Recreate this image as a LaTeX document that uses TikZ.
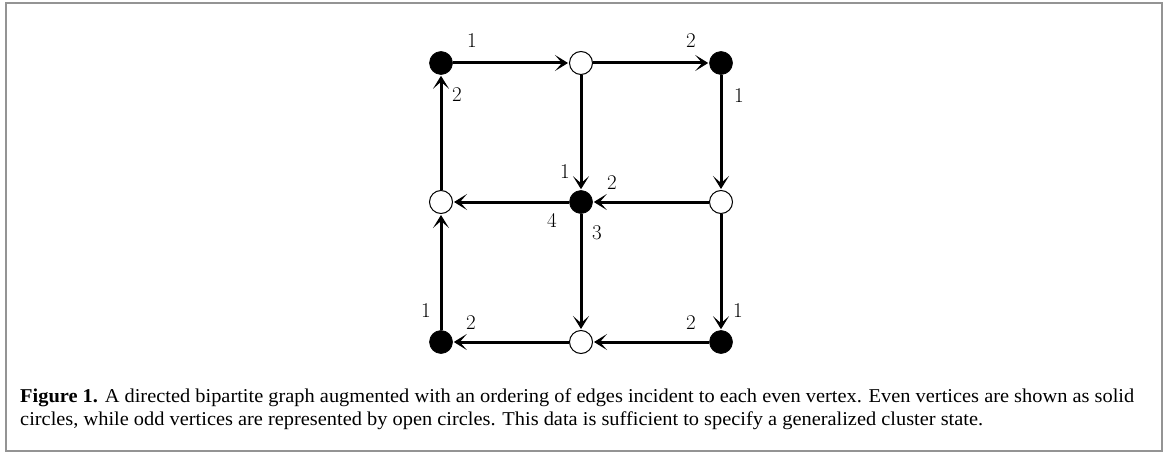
\documentclass[tikz,border=0pt]{standalone}
\usepackage{fontspec}
\newfontfamily\capfont[FakeStretch=1.04]{Liberation Serif}
\usetikzlibrary{arrows.meta}

\tikzset{
  even/.style={circle, fill=black, draw=black, line width=0.6pt, minimum size=23pt, inner sep=0pt},
  odd/.style={circle, fill=white, draw=black, line width=1pt, minimum size=23pt, inner sep=0pt},
  edge/.style={line width=3pt, -{Stealth[length=13pt,width=16pt,inset=7pt]}, shorten >=1pt},
  num/.style={inner sep=0pt, font=\fontsize{21}{22}\selectfont},
  frame/.style={draw=black!42, line width=1.6pt}
}

\begin{document}
\begin{tikzpicture}[x=1pt, y=-1pt]
\useasboundingbox (0,0) rectangle (1168,452);
\draw[frame] (6,3) rectangle (1162,451);

% vertices of the 3x3 grid
\node[even] (tl) at (441,63)  {};
\node[odd]  (tm) at (581,63)  {};
\node[even] (tr) at (721,63)  {};
\node[odd]  (ml) at (441,202) {};
\node[even] (c)  at (581,202) {};
\node[odd]  (mr) at (721,202) {};
\node[even] (bl) at (441,342) {};
\node[odd]  (bm) at (581,342) {};
\node[even] (br) at (721,342) {};

% directed edges
\draw[edge] (tl) -- (tm);
\draw[edge] (tm) -- (tr);
\draw[edge] (tm) -- (c);
\draw[edge] (tr) -- (mr);
\draw[edge] (mr) -- (c);
\draw[edge] (c)  -- (ml);
\draw[edge] (ml) -- (tl);
\draw[edge] (bl) -- (ml);
\draw[edge] (c)  -- (bm);
\draw[edge] (mr) -- (br);
\draw[edge] (br) -- (bm);
\draw[edge] (bm) -- (bl);

% edge orderings at the even vertices
\node[num] (tl1) at ([shift={(31,-22)}]tl) {1};
\node[num] (tl2) at ([shift={(16,32)}]tl)  {2};
\node[num] (tr2) at ([shift={(-30,-22)}]tr) {2};
\node[num] (tr1) at ([shift={(18,33)}]tr)  {1};
\node[num] (c1)  at ([shift={(-16,-30)}]c) {1};
\node[num] (c2)  at ([shift={(31,-19)}]c)  {2};
\node[num] (c4)  at ([shift={(-29,18)}]c)  {4};
\node[num] (c3)  at ([shift={(16,31)}]c)   {3};
\node[num] (bl1) at ([shift={(-15,-31)}]bl) {1};
\node[num] (bl2) at ([shift={(30,-19)}]bl) {2};
\node[num] (br2) at ([shift={(-30,-19)}]br) {2};
\node[num] (br1) at ([shift={(17,-31)}]br) {1};

% caption
\node[anchor=base west, inner sep=0pt] (cap) at (20,402)
  {\parbox[t]{1114pt}{\capfont\fontsize{19.6}{23}\selectfont
   \textbf{Figure 1.} A directed bipartite graph augmented with an ordering of edges incident to each even vertex. Even vertices are shown as solid\linebreak
   circles, while odd vertices are represented by open circles. This data is sufficient to specify a generalized cluster state.}};
\end{tikzpicture}
\end{document}
